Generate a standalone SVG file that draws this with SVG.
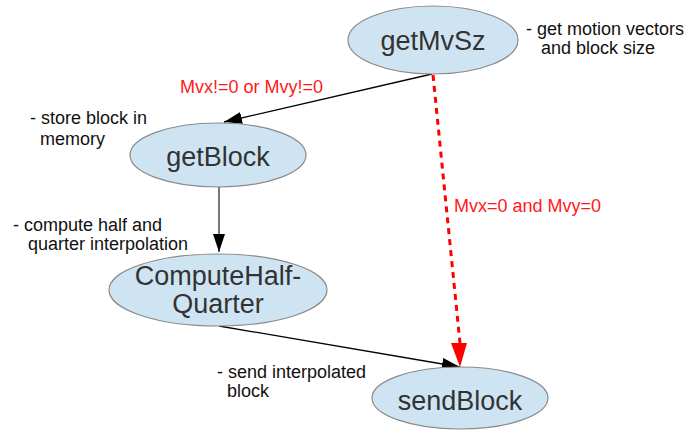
<svg xmlns="http://www.w3.org/2000/svg" width="688" height="430" viewBox="0 0 688 430">
  <style>
    .node ellipse { fill: #cfe4f3; stroke: #8a8a8a; stroke-width: 1.2; }
    .node text { font-family: "Liberation Sans", Arial, sans-serif; font-size: 27px; fill: #333333; text-anchor: middle; }
    .note { font-family: "Liberation Sans", Arial, sans-serif; font-size: 18px; fill: #111111; }
    .cond { font-family: "Liberation Sans", Arial, sans-serif; font-size: 18px; fill: #ff1a1a; }
    .edge { fill: none; stroke: #000000; stroke-width: 1.3; }
    .edge-gray { fill: none; stroke: #777777; stroke-width: 2; }
    .edge-red { fill: none; stroke: #ff0000; stroke-width: 3; stroke-dasharray: 6 5; }
  </style>
  <defs>
    <marker id="arrow-black" viewBox="0 0 18 12" refX="18" refY="6" markerWidth="18" markerHeight="12" markerUnits="userSpaceOnUse" orient="auto">
      <path d="M0,0 L18,6 L0,12 Z" fill="#000000"/>
    </marker>
  </defs>

  <rect width="688" height="430" fill="#ffffff"/>

  <g id="connectors">
    <line class="edge" x1="432" y1="74" x2="224" y2="122" marker-end="url(#arrow-black)"/>
    <line class="edge-gray" x1="219" y1="187" x2="219" y2="252" marker-end="url(#arrow-black)"/>
    <line class="edge" x1="219" y1="326" x2="460" y2="367" marker-end="url(#arrow-black)"/>
    <line class="edge-red" x1="433" y1="75" x2="460" y2="343"/>
    <path d="M451,343 L467,343 L460,367 Z" fill="#ff0000"/>
    <text class="cond" x="180" y="93">Mvx!=0 or Mvy!=0</text>
    <text class="cond" x="454" y="212">Mvx=0 and Mvy=0</text>
  </g>

  <g id="getMvSz" class="node">
    <ellipse cx="433" cy="40" rx="85" ry="34"/>
    <text x="433" y="50">getMvSz</text>
  </g>
  <g id="getBlock" class="node">
    <ellipse cx="218" cy="155" rx="88" ry="32"/>
    <text x="218" y="166">getBlock</text>
  </g>
  <g id="ComputeHalfQuarter" class="node">
    <ellipse cx="218" cy="290" rx="109" ry="36"/>
    <text x="218" y="285">ComputeHalf-</text>
    <text x="218" y="313">Quarter</text>
  </g>
  <g id="sendBlock" class="node">
    <ellipse cx="460" cy="398" rx="88" ry="31"/>
    <text x="460" y="410">sendBlock</text>
  </g>

  <g id="notes">
    <text class="note" x="526" y="35">- get motion vectors</text>
    <text class="note" x="541" y="54">and block size</text>
    <text class="note" x="30" y="124">- store block in</text>
    <text class="note" x="40" y="145">memory</text>
    <text class="note" x="13" y="231">- compute half and</text>
    <text class="note" x="28" y="250">quarter interpolation</text>
    <text class="note" x="217" y="378">- send interpolated</text>
    <text class="note" x="227" y="397">block</text>
  </g>
</svg>
